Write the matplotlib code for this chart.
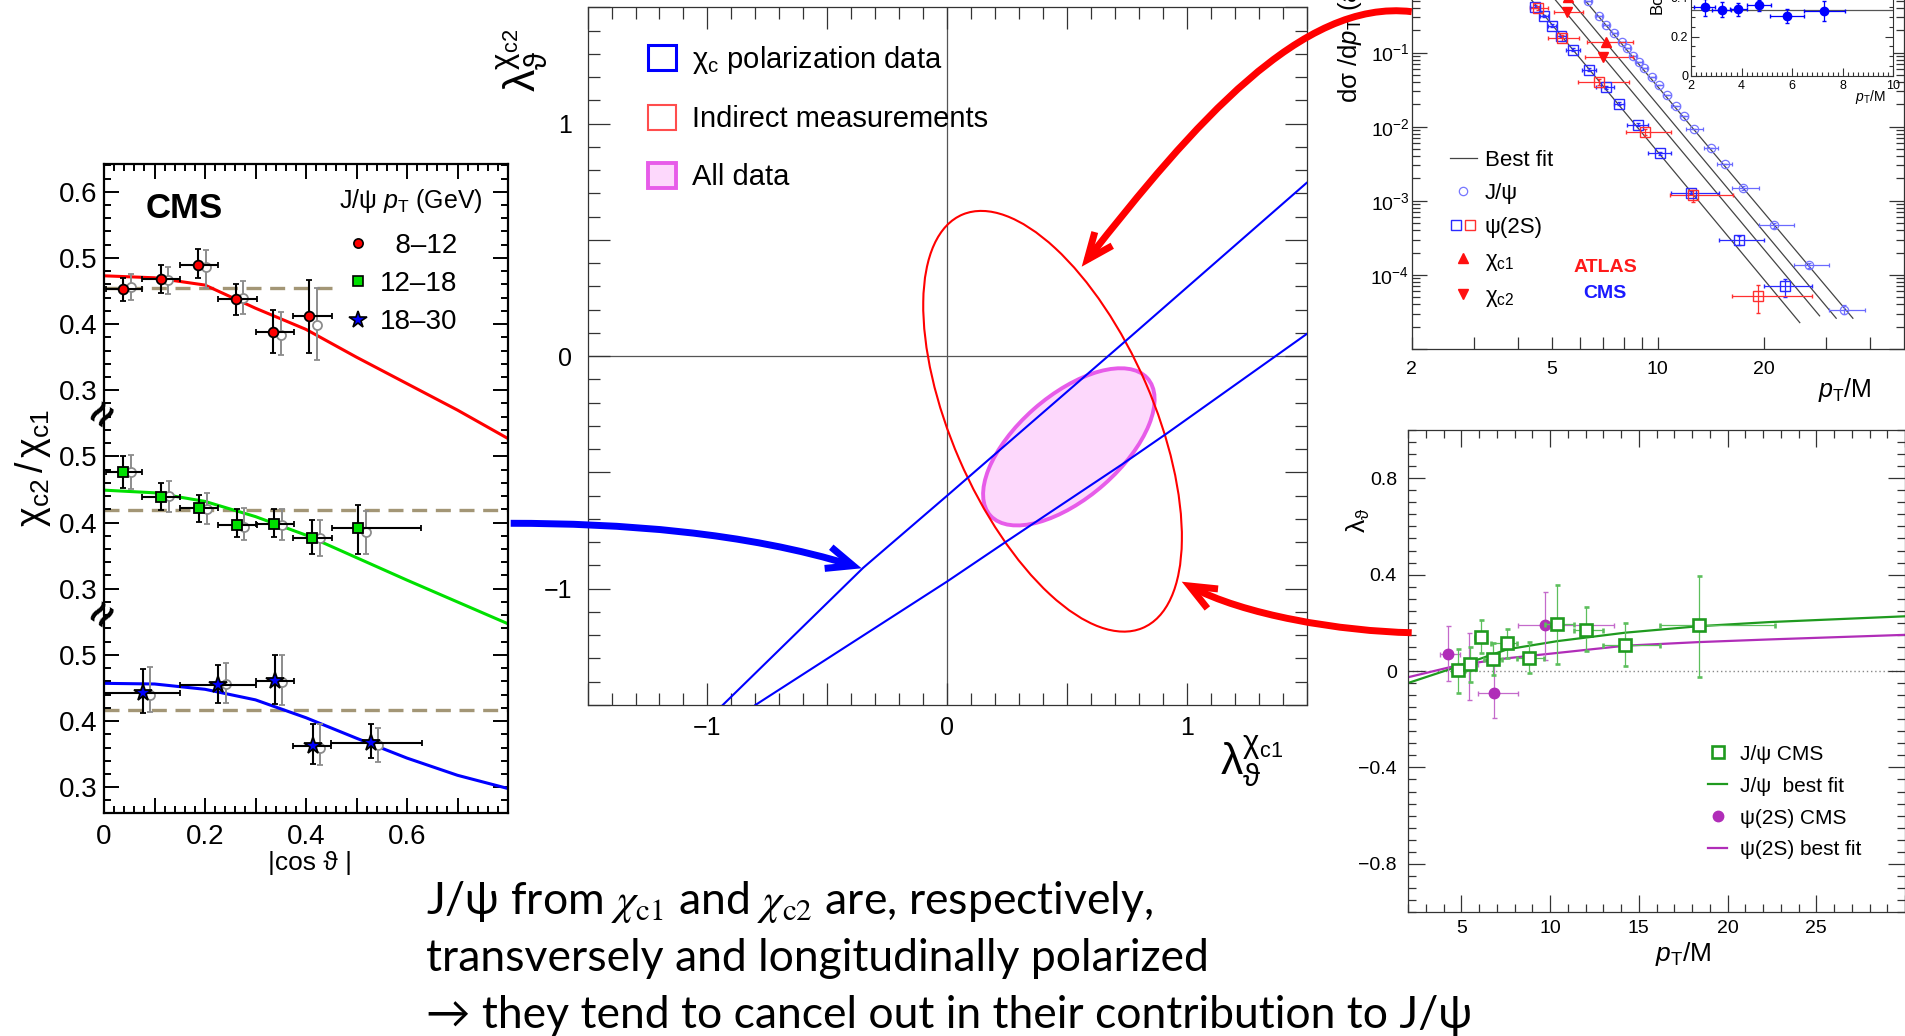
import numpy as np
import matplotlib
matplotlib.use("Agg")
import matplotlib.pyplot as plt
import matplotlib.ticker as mt
import matplotlib.transforms as mtrans
from matplotlib.patches import Ellipse, Patch, FancyArrowPatch
from matplotlib.path import Path
from matplotlib.lines import Line2D
from matplotlib.legend_handler import HandlerTuple

W, H = 1905, 1036
plt.rcParams['font.family'] = ['Liberation Sans', 'DejaVu Sans']
plt.rcParams['mathtext.fontset'] = 'custom'
plt.rcParams['mathtext.rm'] = 'Liberation Sans'
plt.rcParams['mathtext.it'] = 'Liberation Sans:italic'
plt.rcParams['mathtext.bf'] = 'Liberation Sans:bold'
plt.rcParams['mathtext.default'] = 'rm'
plt.rcParams['mathtext.fallback'] = 'stixsans'

# ---------------- left panel: chi_c2 / chi_c1 vs |cos theta| ----------------
red_x = [0.038, 0.112, 0.187, 0.261, 0.335, 0.406]
red_xlo = [0.004, 0.076, 0.150, 0.225, 0.300, 0.375]
red_xhi = [0.075, 0.150, 0.226, 0.302, 0.377, 0.451]
red_y = [0.453, 0.468, 0.489, 0.438, 0.388, 0.412]
red_ylo = [0.435, 0.447, 0.469, 0.413, 0.357, 0.357]
red_yhi = [0.470, 0.489, 0.513, 0.461, 0.422, 0.467]
red_gy = [0.456, 0.466, 0.486, 0.439, 0.384, 0.399]
red_gylo = [0.437, 0.445, 0.455, 0.415, 0.353, 0.346]
red_gyhi = [0.475, 0.487, 0.512, 0.465, 0.418, 0.455]

grn_x = [0.038, 0.113, 0.188, 0.263, 0.337, 0.412, 0.503]
grn_xlo = [0.004, 0.076, 0.150, 0.225, 0.300, 0.375, 0.451]
grn_xhi = [0.075, 0.150, 0.226, 0.302, 0.377, 0.451, 0.628]
grn_y = [0.476, 0.439, 0.422, 0.397, 0.398, 0.377, 0.392]
grn_ylo = [0.452, 0.419, 0.401, 0.378, 0.378, 0.352, 0.353]
grn_yhi = [0.500, 0.460, 0.442, 0.420, 0.420, 0.404, 0.427]
grn_gy = [0.476, 0.440, 0.421, 0.394, 0.396, 0.376, 0.385]
grn_gylo = [0.450, 0.416, 0.398, 0.374, 0.374, 0.350, 0.352]
grn_gyhi = [0.502, 0.463, 0.444, 0.422, 0.421, 0.404, 0.417]

blu_x = [0.077, 0.226, 0.338, 0.413, 0.528]
blu_xlo = [0.000, 0.150, 0.300, 0.375, 0.450]
blu_xhi = [0.150, 0.300, 0.377, 0.450, 0.630]
blu_y = [0.442, 0.454, 0.461, 0.363, 0.367]
blu_ylo = [0.412, 0.427, 0.426, 0.335, 0.344]
blu_yhi = [0.478, 0.484, 0.500, 0.395, 0.395]
blu_gy = [0.440, 0.456, 0.459, 0.360, 0.364]
blu_gylo = [0.413, 0.428, 0.424, 0.333, 0.338]
blu_gyhi = [0.482, 0.487, 0.500, 0.395, 0.390]
gray_dx = 0.015

curve_x = [0, 0.1, 0.2, 0.3, 0.4, 0.5, 0.6, 0.7, 0.8]
red_curve = [0.473, 0.470, 0.459, 0.424, 0.392, 0.350, 0.310, 0.270, 0.227]
grn_curve = [0.449, 0.445, 0.432, 0.409, 0.381, 0.347, 0.313, 0.280, 0.247]
blu_curve = [0.457, 0.456, 0.448, 0.432, 0.405, 0.374, 0.344, 0.318, 0.298]
flat_level = [0.455, 0.419, 0.416]
flat_end = [0.46, 0.8, 0.8]
bin_labels = ['\u20078\u201312', '12\u201318', '18\u201330']

# ---------------- middle panel: lambda chi_c2 vs lambda chi_c1 ----------------
chi_up_x = [-0.936, -0.35, 0.0, 0.75, 1.5]
chi_up_y = [-1.5, -0.91, -0.60, 0.07, 0.745]
chi_lo_x = [-0.80, 0.0, 0.243, 0.729, 0.92, 1.5]
chi_lo_y = [-1.5, -0.969, -0.80, -0.466, -0.33, 0.095]
indirect_ell = dict(xy=(0.44, -0.28), width=1.93, height=0.844, angle=112.8)
all_ell = dict(xy=(0.508, -0.39), width=0.882, height=0.437, angle=42.3)

# ---------------- top right: cross sections ----------------
jpsi_pt = [6.32, 6.83, 7.13, 7.52, 7.90, 8.20, 8.52, 8.83, 9.15, 9.63, 10.1, 10.6,
           11.3, 11.9, 12.7, 14.2, 15.5, 17.5, 21.4, 26.8, 33.8]
jpsi_lo = [6.2, 6.7, 7.0, 7.4, 7.75, 8.05, 8.35, 8.7, 9.0, 9.4, 9.85, 10.35,
           10.9, 11.6, 12.0, 13.5, 14.7, 16.2, 19.4, 24.4, 30.7]
jpsi_hi = [6.45, 6.95, 7.25, 7.65, 8.05, 8.35, 8.7, 9.0, 9.3, 9.85, 10.35, 10.9,
           11.6, 12.2, 13.4, 14.8, 16.2, 19.4, 24.4, 30.7, 38.8]
jpsi_xs = [0.499, 0.313, 0.237, 0.183, 0.141, 0.115, 0.091, 0.0756, 0.0627, 0.0474,
           0.0367, 0.0269, 0.0191, 0.0141, 0.0093, 0.00512, 0.00316, 0.00148,
           4.68e-4, 1.34e-4, 3.4e-5]
jpsi_xslo = [0.499, 0.313, 0.237, 0.183, 0.141, 0.115, 0.091, 0.0756, 0.0627, 0.0474,
             0.0367, 0.0269, 0.0191, 0.0141, 0.0093, 0.00512, 0.00316, 0.00140,
             4.35e-4, 1.22e-4, 3.0e-5]
jpsi_xshi = [0.499, 0.313, 0.237, 0.183, 0.141, 0.115, 0.091, 0.0756, 0.0627, 0.0474,
             0.0367, 0.0269, 0.0191, 0.0141, 0.0093, 0.00512, 0.00316, 0.00156,
             5.0e-4, 1.46e-4, 3.9e-5]

psi_cms_pt = [4.49, 4.74, 5.01, 5.31, 5.74, 6.39, 7.11, 7.74, 8.77, 10.12, 12.42, 17.03, 22.9]
psi_cms_lo = [4.35, 4.62, 4.87, 5.15, 5.5, 6.09, 6.7, 7.5, 8.2, 9.4, 10.9, 14.9, 20.0]
psi_cms_hi = [4.62, 4.87, 5.15, 5.5, 6.0, 6.7, 7.5, 8.0, 9.4, 10.9, 14.9, 20.0, 27.4]
psi_cms_xs = [0.418, 0.313, 0.231, 0.168, 0.109, 0.0585, 0.0341, 0.0203, 0.0106,
              0.00439, 0.00129, 2.97e-4, 7.1e-5]
psi_cms_xslo = [0.40, 0.30, 0.222, 0.161, 0.104, 0.056, 0.0327, 0.0194, 0.0101,
                0.0042, 0.00123, 2.5e-4, 5.1e-5]
psi_cms_xshi = [0.436, 0.326, 0.240, 0.175, 0.114, 0.061, 0.0355, 0.0212, 0.0111,
                0.0046, 0.00135, 3.3e-4, 8.9e-5]

psi_atl_pt = [4.58, 5.35, 6.83, 9.19, 12.62, 19.2]
psi_atl_lo = [4.34, 4.89, 5.94, 8.15, 10.8, 16.2]
psi_atl_hi = [4.89, 5.99, 8.30, 10.9, 16.3, 27.4]
psi_atl_xs = [0.397, 0.156, 0.0406, 0.00843, 0.00120, 5.2e-5]
psi_atl_xslo = [0.37, 0.142, 0.037, 0.0077, 0.00097, 3.04e-5]
psi_atl_xshi = [0.425, 0.170, 0.0444, 0.0092, 0.00140, 7.3e-5]

chic1_pt = [5.57, 7.14]
chic1_lo = [5.1, 6.28]
chic1_hi = [6.1, 8.53]
chic1_xs = [0.56, 0.141]
chic2_pt = [5.52, 6.98]
chic2_lo = [5.06, 6.2]
chic2_hi = [6.15, 8.53]
chic2_xs = [0.35, 0.0884]

fit_pt = [[4.38, 25.3], [5.12, 28.8], [5.64, 32.1], [6.2, 35.8]]
fit_xs = [[0.514, 2.27e-5], [0.514, 2.8e-5], [0.514, 2.6e-5], [0.514, 2.6e-5]]

ins_pt = [2.55, 3.21, 3.87, 4.68, 5.80, 7.26]
ins_lo = [2.1, 2.82, 3.54, 4.2, 5.12, 6.46]
ins_hi = [2.95, 3.6, 4.2, 5.18, 6.46, 8.08]
ins_r = [0.349, 0.336, 0.339, 0.361, 0.305, 0.330]
ins_rlo = [0.302, 0.298, 0.305, 0.330, 0.271, 0.280]
ins_rhi = [0.390, 0.373, 0.370, 0.386, 0.339, 0.381]
ins_fit = 0.336

# ---------------- bottom right: lambda_theta vs pT/M ----------------
jc_pt = [4.84, 5.50, 6.13, 6.79, 7.60, 8.79, 10.42, 12.05, 14.24, 18.4]
jc_ptlo = [4.5, 5.2, 5.8, 6.3, 6.69, 8.13, 9.74, 11.33, 12.98, 16.17]
jc_pthi = [5.2, 5.8, 6.4, 7.3, 8.13, 9.68, 11.33, 12.98, 16.17, 22.67]
jc_lam = [0.004, 0.027, 0.141, 0.050, 0.115, 0.056, 0.193, 0.171, 0.109, 0.189]
jc_lamlo = [-0.090, -0.045, 0.075, -0.018, 0.053, -0.009, 0.027, 0.083, 0.021, -0.024]
jc_lamhi = [0.090, 0.100, 0.212, 0.115, 0.174, 0.119, 0.358, 0.267, 0.200, 0.396]

pc_pt = [4.28, 5.41, 6.85, 9.72]
pc_ptlo = [3.8, 4.83, 5.97, 8.17]
pc_pthi = [4.94, 5.97, 8.17, 13.6]
pc_lam = [0.071, 0.027, -0.090, 0.189]
pc_lamlo = [-0.043, -0.121, -0.197, 0.046]
pc_lamhi = [0.186, 0.156, 0.024, 0.326]

lfit_pt = [2, 4.83, 7.6, 10.42, 14.24, 18.4, 22.36, 30]
jfit_lam = [-0.050, 0.019, 0.090, 0.124, 0.159, 0.186, 0.203, 0.227]
pfit_lam = [-0.026, 0.024, 0.053, 0.075, 0.105, 0.120, 0.131, 0.150]

# ---------------- layout helpers ----------------
fig = plt.figure(figsize=(W / 100, H / 100), dpi=100)
PX = mtrans.Affine2D().scale(1 / W, -1 / H).translate(0, 1) + fig.transFigure


def place(l, t, r, b):
    return [l / W, 1 - b / H, (r - l) / W, (b - t) / H]


def root_ticks(ax, major, minor, width, size, padx, pady, color='black'):
    ax.tick_params(which='both', direction='in', top=True, right=True,
                   width=width, color=color)
    ax.tick_params(which='major', length=major)
    ax.tick_params(which='minor', length=minor)
    ax.tick_params(axis='x', labelsize=size, pad=padx)
    ax.tick_params(axis='y', labelsize=size, pad=pady)


def errs(v, lo, hi):
    v, lo, hi = np.asarray(v), np.asarray(lo), np.asarray(hi)
    return [v - lo, hi - v]


# ================= left panel =================
axL = fig.add_axes(place(104, 164, 508, 813))
SHIFT = [0.6, 0.3, 0.0]  # broken axis: 8-12 on top, 18-30 at bottom
axL.set_xlim(0, 0.8)
axL.set_ylim(0.261, 1.242)
groups = [
    (red_x, red_xlo, red_xhi, red_y, red_ylo, red_yhi, red_gy, red_gylo, red_gyhi,
     red_curve, '#ff0000', 'o', 7),
    (grn_x, grn_xlo, grn_xhi, grn_y, grn_ylo, grn_yhi, grn_gy, grn_gylo, grn_gyhi,
     grn_curve, '#00e000', 's', 7.5),
    (blu_x, blu_xlo, blu_xhi, blu_y, blu_ylo, blu_yhi, blu_gy, blu_gylo, blu_gyhi,
     blu_curve, '#0000ff', '*', 13),
]
handles = []
for i, (x, xlo, xhi, y, ylo, yhi, gy, gylo, gyhi, cur, col, mk, ms) in enumerate(groups):
    s = SHIFT[i]
    axL.plot([0, flat_end[i]], [flat_level[i] + s] * 2, color='#a39676', lw=2.4,
             ls=(0, (4.5, 2.6)), zorder=1)
    axL.plot(curve_x, np.asarray(cur) + s, color=col, lw=2.2, zorder=2)
    gx = np.asarray(x) + gray_dx
    axL.errorbar(gx, np.asarray(gy) + s, yerr=errs(gy, gylo, gyhi), fmt='o', ms=6.5,
                 mfc='white', mec='#8c8c8c', mew=1.3, ecolor='#8c8c8c',
                 elinewidth=1.4, capsize=2.5, zorder=3)
    axL.errorbar(x, np.asarray(y) + s, xerr=errs(x, xlo, xhi), yerr=errs(y, ylo, yhi),
                 fmt=mk, ms=ms, mfc=col, mec='black', mew=1.3, ecolor='black',
                 elinewidth=1.5, capsize=2.5, zorder=4)
    handles.append(Line2D([], [], ls='none', marker=mk, ms=ms * (0.95 if mk != '*' else 1.0),
                          mfc=col, mec='black', mew=1.2))

yt = np.round(np.arange(0.3, 1.21, 0.1), 2)
axL.yaxis.set_major_locator(mt.FixedLocator(yt))
axL.yaxis.set_major_formatter(mt.FuncFormatter(
    lambda v, p: f"{v - 0.6:.1f}" if v > 0.86 else (f"{v - 0.3:.1f}" if v > 0.56 else f"{v:.1f}")))
axL.yaxis.set_minor_locator(mt.MultipleLocator(0.02))
axL.xaxis.set_major_locator(mt.MultipleLocator(0.1))
axL.xaxis.set_major_formatter(mt.FuncFormatter(
    lambda v, p: ('0' if abs(v) < 1e-9 else f"{v:.1f}")
    if (round(v * 10) % 2 == 0 and v < 0.75) else ''))
axL.xaxis.set_minor_locator(mt.MultipleLocator(0.02))
root_ticks(axL, 11, 5, 1.4, 20, 8, 5)
for sp in axL.spines.values():
    sp.set_linewidth(1.6)
for yb in (0.862, 0.56):
    axL.text(0, yb, '\u2248', transform=axL.get_yaxis_transform(), rotation=55,
             fontsize=30, fontweight='bold', ha='center', va='center', zorder=6)
fig.text(184, 208, 'CMS', transform=PX, fontsize=25, fontweight='bold',
         ha='center', va='center')
fig.text(411, 201, r'J/ψ $\mathit{p}_{\rm T}$ (GeV)', transform=PX, fontsize=18,
         ha='center', va='center')
axL.legend(handles, bin_labels, loc='upper left', bbox_to_anchor=(0.60, 0.894),
           fontsize=20, frameon=False, borderpad=0, borderaxespad=0, handlelength=0.8,
           handletextpad=0.4, labelspacing=0.44)
fig.text(33, 468, r'$\chi_{\rm c2}\,/\,\chi_{\rm c1}$', transform=PX, fontsize=27,
         rotation=90, ha='center', va='center')
fig.text(310, 863, '|cos ϑ |', transform=PX, fontsize=19, ha='center', va='center')

# ================= middle panel =================
axM = fig.add_axes(place(587.6, 7.3, 1306.6, 705))
axM.set_xlim(-1.5, 1.5)
axM.set_ylim(-1.5, 1.5)
axM.axhline(0, color='#555555', lw=0.9, zorder=0.5)
axM.axvline(0, color='#555555', lw=0.9, zorder=0.5)
axM.add_patch(Ellipse(**all_ell, facecolor='#fdd8fc', edgecolor='#e75ce9', lw=2.8, zorder=2))
axM.add_patch(Ellipse(**indirect_ell, facecolor='none', edgecolor='#ff0000', lw=1.5, zorder=3))
axM.plot(chi_up_x, chi_up_y, color='#0000ff', lw=1.5, zorder=3)
axM.plot(chi_lo_x, chi_lo_y, color='#0000ff', lw=1.5, zorder=3)
for a in (axM.xaxis, axM.yaxis):
    a.set_major_locator(mt.MultipleLocator(0.5))
    a.set_minor_locator(mt.MultipleLocator(0.1))
    a.set_major_formatter(mt.FuncFormatter(
        lambda v, p: (f"{int(round(v))}".replace('-', '\u2212')) if abs(v - round(v)) < 1e-6 else ''))
root_ticks(axM, 16, 8.5, 0.9, 18, 8, 11, color='#333333')
for sp in axM.spines.values():
    sp.set_linewidth(0.9)
    sp.set_color('#333333')
mh = [Patch(facecolor='none', edgecolor='#0000ff', lw=2.2),
      Patch(facecolor='none', edgecolor='#ff4d4d', lw=1.5),
      Patch(facecolor='#fdd8fc', edgecolor='#e75ce9', lw=2.8)]
axM.legend(mh, [r'$\chi_{c}$ polarization data', 'Indirect measurements', 'All data'],
           loc='upper left', bbox_to_anchor=(0.084, 0.948), fontsize=21, frameon=False,
           borderpad=0, borderaxespad=0, handlelength=0.95, handleheight=0.95,
           handletextpad=0.55, labelspacing=1.0)
fig.text(1252, 761, r'$\lambda_{\vartheta}^{\chi_{c1}}$', transform=PX, fontsize=32,
         ha='center', va='center')
fig.text(522, 60, r'$\lambda_{\vartheta}^{\chi_{c2}}$', transform=PX, fontsize=32,
         ha='center', va='center', rotation=90)

# ================= top right panel =================
axT = fig.add_axes(place(1411.5, -66, 1904, 349))
axT.set_xscale('log')
axT.set_yscale('log')
axT.set_xlim(2, 50)
axT.set_ylim(1e-5, 10 ** 0.6)
for px_, py_ in zip(fit_pt, fit_xs):
    axT.plot(px_, py_, color='#444444', lw=0.9, zorder=1)
axT.errorbar(jpsi_pt, jpsi_xs, xerr=errs(jpsi_pt, jpsi_lo, jpsi_hi),
             yerr=errs(jpsi_xs, jpsi_xslo, jpsi_xshi), fmt='o', ms=6, mfc='none',
             mec='#7676ff', mew=0.9, ecolor='#6a6aff', elinewidth=0.9, capsize=1.5, zorder=3)
axT.errorbar(psi_cms_pt, psi_cms_xs, xerr=errs(psi_cms_pt, psi_cms_lo, psi_cms_hi),
             yerr=errs(psi_cms_xs, psi_cms_xslo, psi_cms_xshi), fmt='s', ms=6.5, mfc='none',
             mec='#2a2aff', mew=1.0, ecolor='#2a2aff', elinewidth=0.9, capsize=1.5, zorder=3)
axT.errorbar(psi_atl_pt, psi_atl_xs, xerr=errs(psi_atl_pt, psi_atl_lo, psi_atl_hi),
             yerr=errs(psi_atl_xs, psi_atl_xslo, psi_atl_xshi), fmt='s', ms=6.5, mfc='none',
             mec='#ff3030', mew=1.0, ecolor='#ff3030', elinewidth=0.9, capsize=1.5, zorder=3)
axT.errorbar(chic1_pt, chic1_xs, xerr=errs(chic1_pt, chic1_lo, chic1_hi), fmt='^', ms=7,
             mfc='#ff1010', mec='#ff1010', ecolor='#ff3030', elinewidth=0.9, capsize=1.5, zorder=3)
axT.errorbar(chic2_pt, chic2_xs, xerr=errs(chic2_pt, chic2_lo, chic2_hi), fmt='v', ms=7,
             mfc='#ff1010', mec='#ff1010', ecolor='#ff3030', elinewidth=0.9, capsize=1.5, zorder=3)
axT.xaxis.set_major_locator(mt.FixedLocator([2, 5, 10, 20]))
axT.xaxis.set_major_formatter(mt.FixedFormatter(['2', '5', '10', '20']))
axT.xaxis.set_minor_locator(mt.FixedLocator([3, 4, 6, 7, 8, 9, 30, 40]))
axT.xaxis.set_minor_formatter(mt.NullFormatter())
axT.yaxis.set_major_locator(mt.LogLocator(base=10, numticks=20))
axT.yaxis.set_major_formatter(mt.FuncFormatter(
    lambda v, p: '' if (v < 2e-5 or v > 0.5) else r'$10^{%d}$' % int(round(np.log10(v)))))
axT.yaxis.set_minor_locator(mt.LogLocator(base=10, subs=np.arange(2, 10), numticks=20))
axT.yaxis.set_minor_formatter(mt.NullFormatter())
root_ticks(axT, 11, 6, 0.9, 14, 9, 1.5, color='#333333')
axT.tick_params(axis='x', which='both', length=9)
for sp in axT.spines.values():
    sp.set_linewidth(0.9)
    sp.set_color('#333333')
th = [Line2D([], [], color='#444444', lw=0.9),
      Line2D([], [], ls='none', marker='o', ms=6, mfc='none', mec='#7676ff', mew=0.9),
      (Line2D([], [], ls='none', marker='s', ms=6.5, mfc='none', mec='#2a2aff'),
       Line2D([], [], ls='none', marker='s', ms=6.5, mfc='none', mec='#ff3030')),
      Line2D([], [], ls='none', marker='^', ms=7, mfc='#ff1010', mec='#ff1010'),
      Line2D([], [], ls='none', marker='v', ms=7, mfc='#ff1010', mec='#ff1010')]
axT.legend(th, ['Best fit', 'J/ψ', 'ψ(2S)', r'$\chi_{c1}$', r'$\chi_{c2}$'],
           handler_map={tuple: HandlerTuple(ndivide=None, pad=0.1)},
           loc='upper left', bbox_to_anchor=(0.078, 0.48), fontsize=16, frameon=False,
           borderpad=0, borderaxespad=0, handlelength=1.2, handletextpad=0.36,
           labelspacing=0.56)
fig.text(1605, 267, 'ATLAS', transform=PX, color='#ff1a1a', fontsize=14,
         fontweight='bold', ha='center', va='center')
fig.text(1605, 293, 'CMS', transform=PX, color='#1a1aff', fontsize=14,
         fontweight='bold', ha='center', va='center')
fig.text(1845, 390, r'$\mathit{p}_{\rm T}$/M', transform=PX, fontsize=18,
         ha='center', va='center')
fig.text(1350, 103, r'd$\sigma$ /d$\mathit{p}_{\rm T}$ (arb. units)', transform=PX,
         fontsize=18.5, rotation=90, ha='center', va='bottom')

# inset
axI = fig.add_axes(place(1691, -22.6, 1893.3, 76))
axI.set_xlim(2, 10)
axI.set_ylim(0, 0.5)
axI.axhline(ins_fit, color='#555555', lw=0.9, zorder=1)
axI.errorbar(ins_pt, ins_r, xerr=errs(ins_pt, ins_lo, ins_hi), yerr=errs(ins_r, ins_rlo, ins_rhi),
             fmt='o', ms=6, color='#0000ff', elinewidth=0.9, capsize=1.5, zorder=3)
axI.xaxis.set_major_locator(mt.MultipleLocator(2))
axI.xaxis.set_minor_locator(mt.MultipleLocator(0.2))
axI.yaxis.set_major_locator(mt.MultipleLocator(0.2))
axI.yaxis.set_minor_locator(mt.MultipleLocator(0.05))
axI.yaxis.set_major_formatter(mt.FuncFormatter(lambda v, p: '0' if abs(v) < 1e-9 else f"{v:.1f}"))
root_ticks(axI, 6, 3, 0.8, 9, 3, 2, color='#333333')
for sp in axI.spines.values():
    sp.set_linewidth(0.8)
    sp.set_color('#333333')
fig.text(1870, 97, r'$\mathit{p}_{\rm T}$/M', transform=PX, fontsize=10, ha='center', va='center')
fig.text(1657, 14, 'Bo', transform=PX, fontsize=12, rotation=90, ha='center', va='bottom')

# ================= bottom right panel =================
axB = fig.add_axes(place(1408, 430, 1905, 912))
axB.set_xlim(2, 30)
axB.set_ylim(-1, 1)
axB.axhline(0, color='#888888', lw=1.0, ls=(0, (1, 2)), zorder=1)
axB.plot(lfit_pt, jfit_lam, color='#1f9a1f', lw=1.6, zorder=2)
axB.plot(lfit_pt, pfit_lam, color='#b02db8', lw=1.6, zorder=2)
axB.errorbar(pc_pt, pc_lam, xerr=errs(pc_pt, pc_ptlo, pc_pthi), yerr=errs(pc_lam, pc_lamlo, pc_lamhi),
             fmt='o', ms=7.5, mfc='#b02db8', mec='#b02db8', ecolor='#c46acb', elinewidth=0.9,
             capsize=1.8, zorder=3)
axB.errorbar(jc_pt, jc_lam, xerr=errs(jc_pt, jc_ptlo, jc_pthi), yerr=errs(jc_lam, jc_lamlo, jc_lamhi),
             fmt='s', ms=8, mfc='white', mec='#1f9a1f', mew=1.9, ecolor='#5cbf5c', elinewidth=0.9,
             capsize=1.8, zorder=4)
axB.xaxis.set_major_locator(mt.MultipleLocator(5))
axB.xaxis.set_major_formatter(mt.FuncFormatter(lambda v, p: f"{v:.0f}" if v < 27 else ''))
axB.xaxis.set_minor_locator(mt.MultipleLocator(1))
axB.yaxis.set_major_locator(mt.MultipleLocator(0.4))
axB.yaxis.set_minor_locator(mt.MultipleLocator(0.05))
axB.yaxis.set_major_formatter(mt.FuncFormatter(
    lambda v, p: '0' if abs(v) < 1e-9 else f"{v:.1f}".replace('-', '\u2212')))
root_ticks(axB, 12, 6, 0.9, 14, 6, 8, color='#333333')
for sp in axB.spines.values():
    sp.set_linewidth(0.9)
    sp.set_color('#333333')
bh = [Line2D([], [], ls='none', marker='s', ms=8, mfc='white', mec='#1f9a1f', mew=1.9),
      Line2D([], [], color='#1f9a1f', lw=1.6),
      Line2D([], [], ls='none', marker='o', ms=7.5, mfc='#b02db8', mec='#b02db8'),
      Line2D([], [], color='#b02db8', lw=1.6)]
axB.legend(bh, ['J/ψ CMS', 'J/ψ  best fit', 'ψ(2S) CMS', 'ψ(2S) best fit'],
           loc='upper left', bbox_to_anchor=(0.603, 0.347), fontsize=15, frameon=False,
           borderpad=0, borderaxespad=0, handlelength=0.95, handletextpad=0.6,
           labelspacing=0.62)
fig.text(1358, 520, r'$\lambda_{\vartheta}$', transform=PX, fontsize=19, rotation=90,
         ha='center', va='center')
fig.text(1683, 954, r'$\mathit{p}_{\rm T}$/M', transform=PX, fontsize=19,
         ha='center', va='center')

# ================= arrows =================
arrows = [
    ('#ff0000', [(1411.7, 11.7), (1301.7, -1.5), (1193.3, 124.5), (1081.7, 266.7)]),
    ('#ff0000', [(1411.7, 632.7), (1341.7, 631.3), (1243.1, 615.3), (1181.7, 581.7)]),
    ('#0000ff', [(510.7, 523.3), (620.0, 523.3), (745.0, 532.0), (861.7, 568.3)]),
]
for col, pts in arrows:
    p = Path(pts, [Path.MOVETO, Path.CURVE4, Path.CURVE4, Path.CURVE4])
    fig.add_artist(FancyArrowPatch(path=p, transform=PX, color=col, lw=5,
                                   arrowstyle='->,head_length=0.95,head_width=0.4',
                                   mutation_scale=20, capstyle='butt', joinstyle='miter',
                                   zorder=10))

# ================= slide text =================
tfont = ['Lato', 'DejaVu Sans']
lines = [r'J/ψ from $\mathit{\chi}_{\mathrm{c1}}$ and $\mathit{\chi}_{\mathrm{c2}}$ are, respectively,',
         'transversely and longitudinally polarized',
         '\u2192 they tend to cancel out in their contribution to J/ψ']
for txt, yb in zip(lines, [914, 971, 1028]):
    fig.text(426, yb, txt, transform=PX, fontsize=32, family=tfont,
             math_fontfamily='stix', ha='left', va='baseline')

fig.savefig('out.png', dpi=100)
